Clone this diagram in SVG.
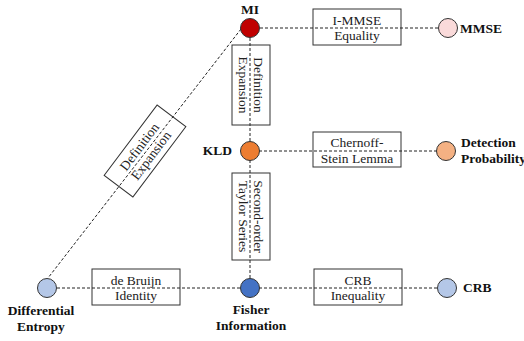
<svg xmlns="http://www.w3.org/2000/svg" width="524" height="341" viewBox="0 0 524 341">
  <style>
    .box { fill: #ffffff; stroke: #333333; stroke-width: 1; }
    .lbl { font-family: "Liberation Serif", "Times New Roman", serif; font-size: 13.5px; fill: #222222; text-anchor: middle; }
    .name { font-family: "Liberation Serif", "Times New Roman", serif; font-size: 13.5px; font-weight: bold; fill: #111111; }
    .edge { stroke: #222222; stroke-width: 1; stroke-dasharray: 3 2; fill: none; }
    .dot { stroke: #333333; stroke-width: 1; }
  </style>

  <!-- relation boxes (drawn beneath the dashed connectors) -->
  <g id="relations">
    <g id="rel-immse">
      <rect class="box" x="313" y="9" width="88" height="36"/>
      <text class="lbl" x="357" y="24.5">I-MMSE</text>
      <text class="lbl" x="357" y="39.5">Equality</text>
    </g>
    <g id="rel-chernoff">
      <rect class="box" x="313" y="132" width="88" height="35"/>
      <text class="lbl" x="357" y="147">Chernoff-</text>
      <text class="lbl" x="357" y="162.5">Stein Lemma</text>
    </g>
    <g id="rel-debruijn">
      <rect class="box" x="92" y="269" width="88" height="36"/>
      <text class="lbl" x="136" y="284.5">de Bruijn</text>
      <text class="lbl" x="136" y="299.5">Identity</text>
    </g>
    <g id="rel-crb">
      <rect class="box" x="314" y="269" width="88" height="36"/>
      <text class="lbl" x="358" y="284.5">CRB</text>
      <text class="lbl" x="358" y="299.5">Inequality</text>
    </g>
    <g id="rel-def-vertical" transform="translate(251,85) rotate(90)">
      <rect class="box" x="-40" y="-19" width="80" height="38"/>
      <text class="lbl" x="0" y="-2.5">Definition</text>
      <text class="lbl" x="0" y="12">Expansion</text>
    </g>
    <g id="rel-taylor" transform="translate(251,216.5) rotate(90)">
      <rect class="box" x="-43.5" y="-19" width="87" height="38"/>
      <text class="lbl" x="0" y="-2.5">Second-order</text>
      <text class="lbl" x="0" y="12">Taylor Series</text>
    </g>
    <g id="rel-def-diagonal" transform="translate(145,151) rotate(-53)">
      <rect class="box" x="-44" y="-18" width="88" height="36"/>
      <text class="lbl" x="0" y="-2.5">Definition</text>
      <text class="lbl" x="0" y="12">Expansion</text>
    </g>
  </g>

  <!-- dashed connectors -->
  <g id="connectors">
    <line class="edge" x1="260" y1="28" x2="438" y2="28"/>
    <line class="edge" x1="259" y1="151" x2="437" y2="151"/>
    <line class="edge" x1="57" y1="288" x2="240" y2="288"/>
    <line class="edge" x1="259" y1="288" x2="437" y2="288"/>
    <line class="edge" x1="250" y1="38" x2="250" y2="142"/>
    <line class="edge" x1="250" y1="160" x2="250" y2="279"/>
    <line class="edge" x1="241" y1="29" x2="48" y2="278"/>
  </g>

  <!-- quantity nodes -->
  <g id="node-mi">
    <circle class="dot" cx="250" cy="28" r="9.5" fill="#C00000"/>
    <text class="name" x="250" y="14" text-anchor="middle">MI</text>
  </g>
  <g id="node-mmse">
    <circle class="dot" cx="448" cy="28" r="9.5" fill="#FADADA"/>
    <text class="name" x="460" y="33">MMSE</text>
  </g>
  <g id="node-kld">
    <circle class="dot" cx="250" cy="151" r="9.5" fill="#ED7D31"/>
    <text class="name" x="232" y="155" text-anchor="end">KLD</text>
  </g>
  <g id="node-detection">
    <circle class="dot" cx="446" cy="151" r="9.5" fill="#F4B183"/>
    <text class="name" x="461" y="147">Detection</text>
    <text class="name" x="461" y="163">Probability</text>
  </g>
  <g id="node-diff-entropy">
    <circle class="dot" cx="47" cy="288" r="9.5" fill="#B4C7E7"/>
    <text class="name" x="41" y="315" text-anchor="middle">Differential</text>
    <text class="name" x="41" y="331" text-anchor="middle">Entropy</text>
  </g>
  <g id="node-fisher">
    <circle class="dot" cx="250" cy="288" r="9.5" fill="#4472C4"/>
    <text class="name" x="251" y="314" text-anchor="middle">Fisher</text>
    <text class="name" x="251" y="330" text-anchor="middle">Information</text>
  </g>
  <g id="node-crb">
    <circle class="dot" cx="447" cy="288" r="9.5" fill="#B4C7E7"/>
    <text class="name" x="463" y="292">CRB</text>
  </g>
</svg>
